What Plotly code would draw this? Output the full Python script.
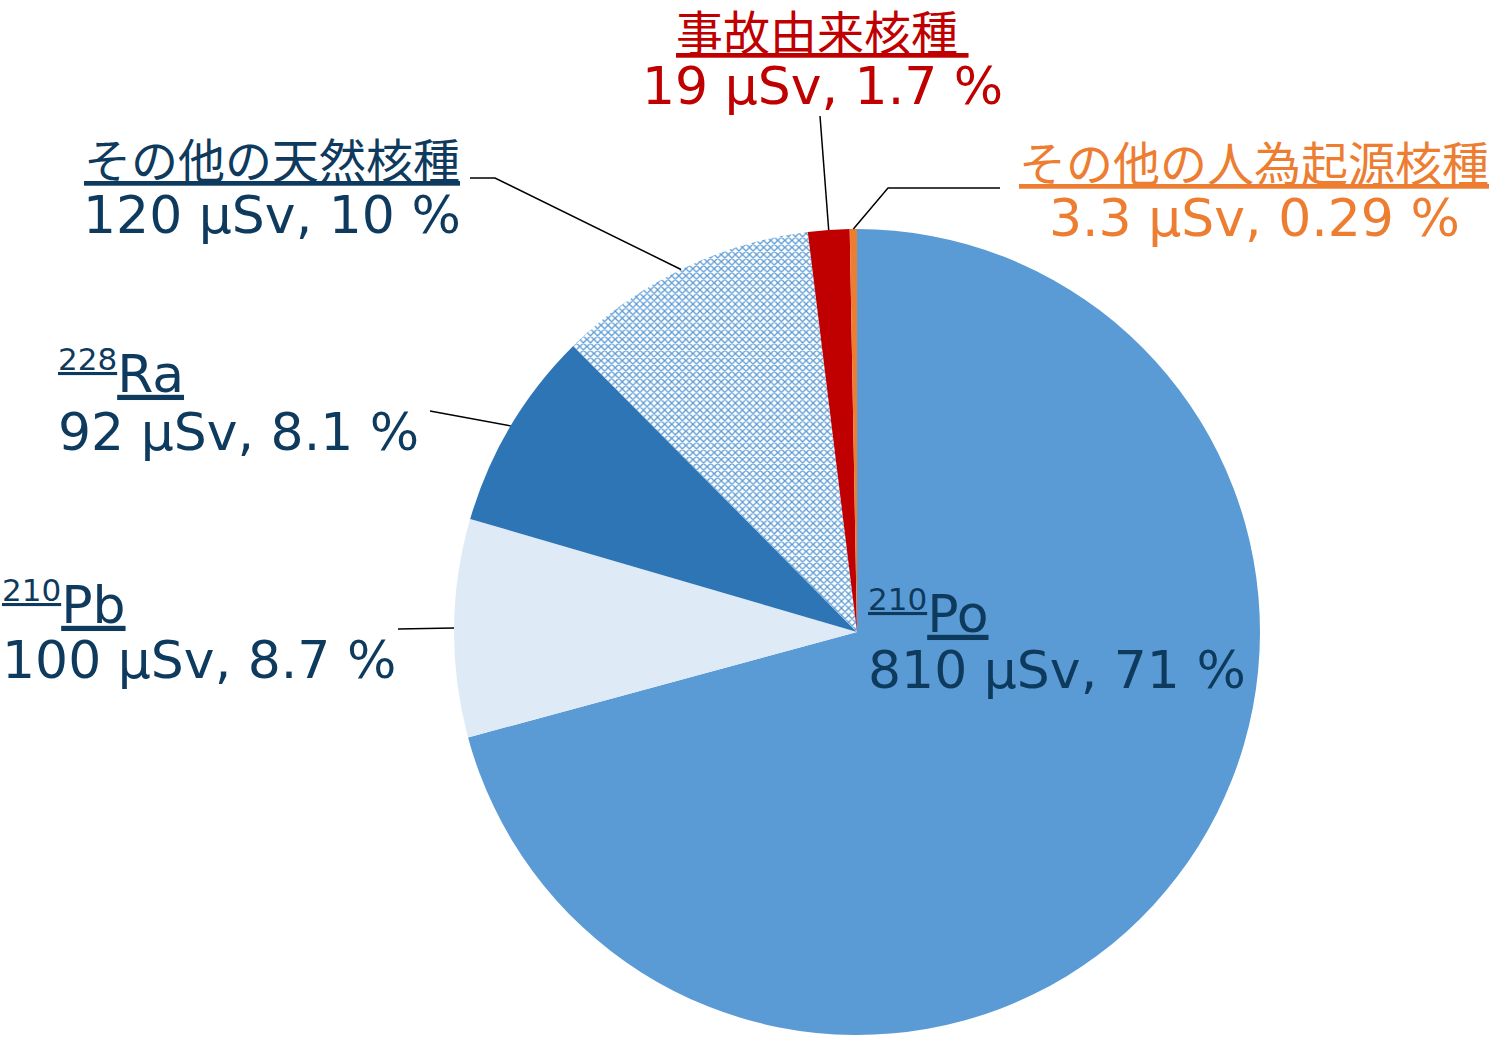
import numpy as np
import plotly.graph_objects as go

W, H = 1500, 1037

# data (uSv)
nuclides = ["<sup>210</sup>Po", "<sup>210</sup>Pb", "<sup>228</sup>Ra",
            "その他の天然核種", "事故由来核種", "その他の人為起源核種"]
doses = [810, 100, 92, 120, 19, 3.3]
dose_txt = ["810", "100", "92", "120", "19", "3.3"]
pct_txt = ["71", "8.7", "8.1", "10", "1.7", "0.29"]

colors = ["#5B9BD5", "#DEEBF7", "#2E75B6", "#FFFFFF", "#C00000", "#ED7D31"]
label_colors = ["#0E3A5E"] * 4 + ["#C00000", "#ED7D31"]

# pie geometry in pixels
cx, cy, r = 857, 632, 403

def px(x):
    return x / W

def py(y):
    return 1 - y / H

fig = go.Figure(go.Pie(
    labels=nuclides, values=doses, sort=False, direction="clockwise", rotation=0,
    textinfo="none", hoverinfo="label+value+percent", showlegend=False,
    marker=dict(colors=colors, line=dict(width=0),
                pattern=dict(shape=["", "", "", "x", "", ""],
                             fgcolor="#5B9BD5", bgcolor="#FFFFFF",
                             size=5, solidity=0.45)),
    domain=dict(x=[px(cx - r), px(cx + r)], y=[py(cy + r), py(cy - r)]),
))

# label placement: (x, y of header, y of value line, anchor)
label_pos = [
    (866, 612, 670, "left"),
    (0, 603, 660, "left"),
    (56, 372, 432, "left"),
    (272, 157, 215, "center"),
    (822, 30, 86, "center"),
    (1254, 160, 218, "center"),
]

latin = "DejaVu Sans"
cjk = "Noto Sans CJK JP"
annotations = []
for i, (lx, ly1, ly2, anc) in enumerate(label_pos):
    c = label_colors[i]
    if i < 3:
        # isotope: small mass number + element symbol
        head = nuclides[i].replace("<sup>", "<sup><span style='font-size:31px'>") \
                          .replace("</sup>", "</span></sup>")
        hfont = dict(family=latin, size=52, color=c)
    else:
        head = nuclides[i] + ("\u00a0" if i == 4 else "")
        hfont = dict(family=cjk, size=47, color=c)
    annotations.append(dict(x=px(lx), y=py(ly1), xref="paper", yref="paper",
                            text="<u>" + head + "</u>", showarrow=False,
                            xanchor=anc, yanchor="middle", font=hfont))
    annotations.append(dict(x=px(lx), y=py(ly2), xref="paper", yref="paper",
                            text=f"{dose_txt[i]} μSv, {pct_txt[i]} %", showarrow=False,
                            xanchor=anc, yanchor="middle",
                            font=dict(family=latin, size=52, color=c)))

# leader lines from slice mid-angle on the rim to the labels
total = sum(doses)
cum = np.cumsum([0] + doses[:-1])
mid = [(cum[i] + doses[i] / 2) / total * 360 for i in range(len(doses))]

def rim(i):
    a = np.radians(mid[i])
    return cx + r * np.sin(a), cy - r * np.cos(a)

leaders = {
    1: [(398, 629)],
    2: [(430, 411)],
    3: [(470, 178), (495, 178)],
    4: [(820, 116)],
    5: [(1000, 188), (888, 188)],
}
shapes = []
for i, pts in leaders.items():
    path = pts + [rim(i)]
    d = "M " + " L ".join(f"{px(x):.5f},{py(y):.5f}" for x, y in path)
    shapes.append(dict(type="path", path=d, xref="paper", yref="paper",
                       line=dict(color="black", width=1.5)))

fig.update_layout(width=W, height=H, margin=dict(l=0, r=0, t=0, b=0),
                  paper_bgcolor="white", plot_bgcolor="white",
                  annotations=annotations, shapes=shapes)
fig.write_html("out.html", config={"displayModeBar": False},
               post_script="document.body.style.margin='0';")
